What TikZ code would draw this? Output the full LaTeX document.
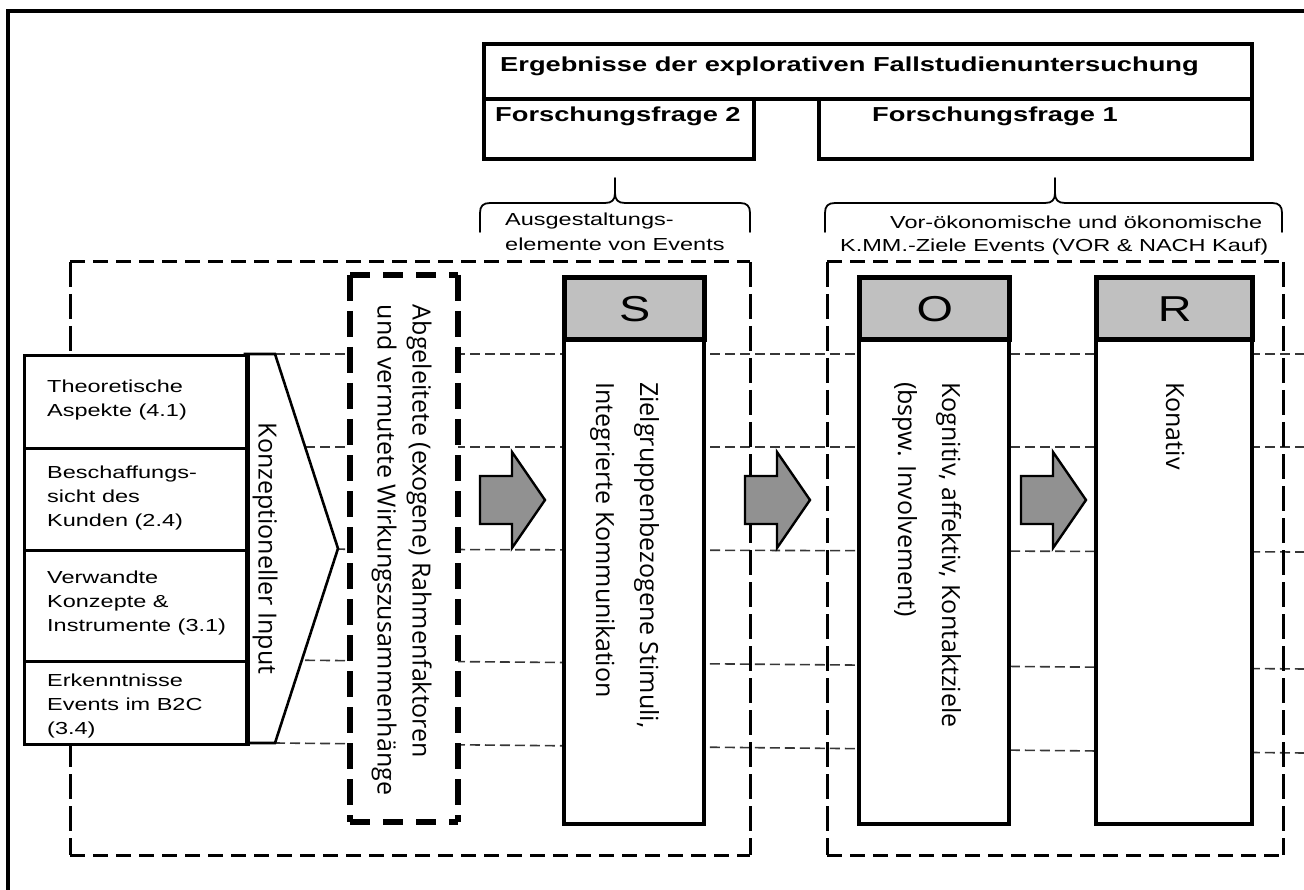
\documentclass[tikz,border=0pt]{standalone}
\usepackage{fontspec}
\setmainfont{Liberation Sans}
\newfontfamily\vertfont{Open Sans}
\usetikzlibrary{calc}
\definecolor{headgray}{RGB}{192,192,192}
\definecolor{arrowgray}{RGB}{145,145,145}
\definecolor{guidegray}{RGB}{55,55,55}
% horizontal labels are set wide
\newcommand\widetext[1]{\scalebox{1.35}[1]{#1}}
\newcommand\bodysize{\fontsize{17.4}{24}\selectfont}
\newcommand\boldsize{\fontsize{20.2}{24}\selectfont\bfseries}
\newcommand\rowtext[1]{\bodysize\widetext{\begin{tabular}{@{}l@{}}#1\end{tabular}}}
\newcommand\verttext[2]{\vertfont\fontsize{25}{#1}\selectfont\begin{tabular}{@{}l@{}}#2\end{tabular}}
\begin{document}
\begin{tikzpicture}[x=1pt,y=-1pt,
  box/.style={draw, rectangle, inner sep=0pt, anchor=north west},
  hdrbox/.style={box, line width=3.6pt, fill=white},
  rowbox/.style={box, line width=2.6pt, fill=white},
  sorbody/.style={box, line width=4.4pt, fill=white},
  sorhead/.style={box, line width=5.4pt, fill=headgray},
  txt/.style={inner sep=0pt},
  vtxt/.style={inner sep=0pt, rotate=-90, anchor=west},
  brace/.style={line width=1.8pt, line cap=round, line join=round},
  guide/.style={line width=1.6pt, draw=guidegray, dash pattern=on 10pt off 5pt},
  regionh/.style={line width=3pt, dash pattern=on 15pt off 8pt},
  regionv/.style={line width=3pt, dash pattern=on 25pt off 7pt},
  framedh/.style={line width=5.5pt, dash pattern=on 20pt off 13pt},
  framedv/.style={line width=5.5pt, dash pattern=on 26pt off 10pt},
  blockarrow/.style={draw, line width=2.4pt, fill=arrowgray, line join=miter},
  fatarrow/.pic={\draw[blockarrow] (0,-24) -- (32,-24) -- (32,-48) -- (65,0) -- (32,48) -- (32,24) -- (0,24) -- cycle;}
]
\useasboundingbox (0,0) rectangle (1304,890);
\fill[white] (0,0) rectangle (1304,890);

% outer frame
\draw[line width=3.2pt] (8,890) -- (8,11) -- (1310,11);

% result header
\node[hdrbox, minimum width=768pt, minimum height=55pt] (head) at (482,42) {};
\node[hdrbox, minimum width=270pt, minimum height=60pt] (ff2) at (482,97) {};
\node[hdrbox, minimum width=433pt, minimum height=60pt] (ff1) at (817,97) {};
\node[txt, anchor=base west] (headtxt) at (500,72) {\boldsize\widetext{Ergebnisse der explorativen Fallstudienuntersuchung}};
\node[txt, anchor=base west] (ff2txt) at (495,122) {\boldsize\widetext{Forschungsfrage 2}};
\node[txt, anchor=base west] (ff1txt) at (872,122) {\boldsize\widetext{Forschungsfrage 1}};

% braces
\draw[brace] (480,232) -- (480,213) .. controls (480,206) and (483,203) .. (490,203) -- (605,203)
  .. controls (612,203) and (615,200) .. (615,193) -- (615,178);
\draw[brace] (615,193) .. controls (615,200) and (618,203) .. (625,203) -- (740,203)
  .. controls (747,203) and (750,206) .. (750,213) -- (750,232);
\draw[brace] (825,232) -- (825,213) .. controls (825,206) and (828,203) .. (835,203) -- (1045,203)
  .. controls (1052,203) and (1055,200) .. (1055,193) -- (1055,178);
\draw[brace] (1055,193) .. controls (1055,200) and (1058,203) .. (1065,203) -- (1272,203)
  .. controls (1279,203) and (1282,206) .. (1282,213) -- (1282,232);

\node[txt, anchor=base west] (lblS1) at (505,226) {\bodysize\widetext{Ausgestaltungs-}};
\node[txt, anchor=base west] (lblS2) at (505,251) {\bodysize\widetext{elemente von Events}};
\node[txt, anchor=base west] (lblOR1) at (890,229) {\bodysize\widetext{Vor-ökonomische und ökonomische}};
\node[txt, anchor=base west] (lblOR2) at (840,252) {\bodysize\widetext{K.MM.-Ziele Events (VOR \& NACH Kauf)}};

% guide lines across all stages
\draw[guide] (275,354) -- (1304,354);
\draw[guide] (275,447) -- (1304,447);
\draw[guide] (275,549) -- (1304,552);
\draw[guide] (275,660) -- (1304,669);
\draw[guide] (275,743) -- (1304,753);

% dashed regions
\draw[regionh] (70,262) -- (750,262);
\draw[regionh] (70,855) -- (750,855);
\draw[regionv] (70,262) -- (70,855);
\draw[regionv] (750,262) -- (750,855);
\draw[regionh] (827,262) -- (1283,262);
\draw[regionh] (827,855) -- (1283,855);
\draw[regionv] (827,262) -- (827,855);
\draw[regionv] (1283,262) -- (1283,855);

% conceptual input
\draw[line width=2.6pt, fill=white, line join=miter] (245,354) -- (275,354) -- (338,548.5) -- (275,743) -- (245,743) -- cycle;
\node[rowbox, minimum width=222pt, minimum height=93pt] (row1) at (23,354) {};
\node[rowbox, minimum width=222pt, minimum height=102pt] (row2) at (23,447) {};
\node[rowbox, minimum width=222pt, minimum height=111pt] (row3) at (23,549) {};
\node[rowbox, minimum width=222pt, minimum height=83pt] (row4) at (23,660) {};
\draw[line width=4.6pt] (row1.north east) -- (row4.south east);
\node[txt, anchor=west] (row1txt) at (47,400) {\rowtext{Theoretische\\Aspekte (4.1)}};
\node[txt, anchor=west] (row2txt) at (47,498) {\rowtext{Beschaffungs-\\sicht des\\Kunden (2.4)}};
\node[txt, anchor=west] (row3txt) at (47,603) {\rowtext{Verwandte\\Konzepte \&\\Instrumente (3.1)}};
\node[txt, anchor=west] (row4txt) at (47,706) {\rowtext{Erkenntnisse\\Events im B2C\\(3.4)}};
\node[vtxt, anchor=center] (inputtxt) at (265,548.5) {\vertfont\fontsize{25}{30}\selectfont Konzeptioneller Input};

% framework conditions
\fill[white] (350,275) rectangle (458,822);
\draw[framedh] (350,275) -- (458,275);
\draw[framedh] (350,822) -- (458,822);
\draw[framedv] (350,275) -- (350,822);
\draw[framedv] (458,275) -- (458,822);
\node[vtxt, anchor=center] (frametxt) at (402,550) {\verttext{35}{Abgeleitete (exogene) Rahmenfaktoren\\und vermutete Wirkungszusammenhänge}};

% S - O - R
\node[sorbody, minimum width=140pt, minimum height=547pt] (sbody) at (562,275) {};
\node[sorhead, minimum width=140pt, minimum height=62pt] (shead) at (562,275) {};
\node[txt] (sletter) at (shead.center) {\fontsize{36}{40}\selectfont\scalebox{1.3}[1]{S}};
\node[vtxt] (stxt) at (627,382) {\verttext{44}{Zielgruppenbezogene Stimuli,\\Integrierte Kommunikation}};

\node[sorbody, minimum width=150pt, minimum height=547pt] (obody) at (857,275) {};
\node[sorhead, minimum width=150pt, minimum height=62pt] (ohead) at (857,275) {};
\node[txt] (oletter) at (ohead.center) {\fontsize{36}{40}\selectfont\scalebox{1.3}[1]{O}};
\node[vtxt] (otxt) at (929,382) {\verttext{44}{Kognitiv, affektiv, Kontaktziele\\(bspw. Involvement)}};

\node[sorbody, minimum width=156pt, minimum height=547pt] (rbody) at (1094,275) {};
\node[sorhead, minimum width=156pt, minimum height=62pt] (rhead) at (1094,275) {};
\node[txt] (rletter) at (rhead.center) {\fontsize{36}{40}\selectfont\scalebox{1.3}[1]{R}};
\node[vtxt] (rtxt) at (1175,382) {\verttext{44}{Konativ}};

% block arrows between the stages
\pic at (480,500) {fatarrow};
\pic at (745,500) {fatarrow};
\pic at (1021,500) {fatarrow};
\end{tikzpicture}
\end{document}
